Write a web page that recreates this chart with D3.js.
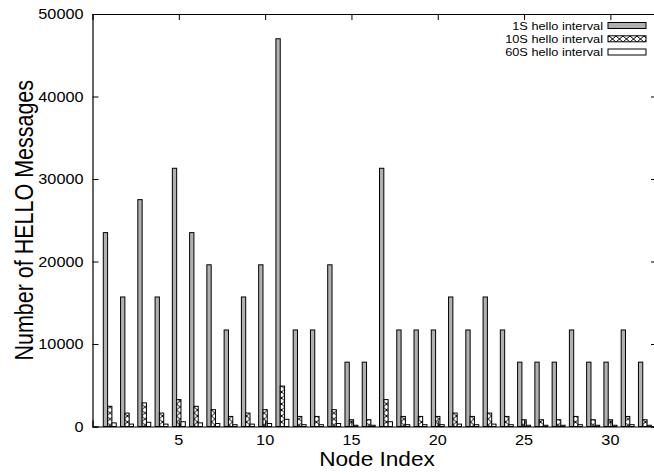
<!DOCTYPE html>
<html>
<head>
<meta charset="utf-8">
<script src="https://cdn.jsdelivr.net/npm/d3@7"></script>
<style>
  html, body { margin: 0; padding: 0; background: #fff; }
  svg { display: block; }
  text { font-family: "Liberation Sans", Arial, Helvetica, sans-serif; fill: #000; }
</style>
</head>
<body>
<div id="chart"></div>
<script>
// node indices
const nodes = [1,2,3,4,5,6,7,8,9,10,11,12,13,14,15,16,17,18,19,20,21,22,23,24,25,26,27,28,29,30,31,32];
// HELLO messages per node, one array per hello interval
const hello1s = [23500,15700,27500,15700,31300,23500,19600,11700,15700,19600,47000,11700,11700,19600,7800,7800,
                 31300,11700,11700,11700,15700,11700,15700,11700,7800,7800,7800,11700,7800,7800,11700,7800];
const hello10s = [2450,1630,2860,1630,3260,2450,2040,1220,1630,2040,4900,1220,1220,2040,820,820,
                  3260,1220,1220,1220,1630,1220,1630,1220,820,820,820,1220,820,820,1220,820];
const hello60s = [440,290,510,290,580,440,360,220,290,360,870,220,220,360,150,150,
                  580,220,220,220,290,220,290,220,150,150,150,220,150,150,220,150];
const seriesNames = ["1S hello interval", "10S hello interval", "60S hello interval"];
const xTicks = [5,10,15,20,25,30];
const yTicks = [0,10000,20000,30000,40000,50000];

const width = 654, height = 475;
const margin = { top: 14, left: 92.5, bottom: 48.5, right: -3 };
const innerW = width - margin.left - margin.right;
const innerH = height - margin.top - margin.bottom;
const sx = 1.16; // fonts in the picture look a bit stretched sideways

const svg = d3.select("#chart").append("svg")
  .attr("width", width).attr("height", height);

// crosshatch fill for the 10S series
const defs = svg.append("defs");
const pat = defs.append("pattern")
  .attr("id", "xhatch")
  .attr("patternUnits", "userSpaceOnUse")
  .attr("width", 7).attr("height", 6);
pat.append("rect").attr("width", 7).attr("height", 6).attr("fill", "#fff");
pat.append("path")
  .attr("d", "M0,0 L7,6 M7,0 L0,6")
  .attr("stroke", "#000").attr("stroke-width", 1);

const fills = ["#b0b0b0", "url(#xhatch)", "#fff"];
const series = [hello1s, hello10s, hello60s];

const g = svg.append("g").attr("transform", `translate(${margin.left},${margin.top})`);

const x = d3.scaleLinear().domain([0, 32.7]).range([0, innerW]);
const y = d3.scaleLinear().domain([0, 50000]).range([innerH, 0]);
const barW = 0.25; // in node units

// bars
series.forEach((vals, s) => {
  g.append("g").selectAll("rect")
    .data(vals)
    .join("rect")
    .attr("x", (d, i) => x(nodes[i] - 0.375 + s * barW))
    .attr("width", x(barW) - x(0))
    .attr("y", d => y(d))
    .attr("height", d => innerH - y(d))
    .attr("fill", fills[s])
    .attr("stroke", "#000")
    .attr("stroke-width", 1);
});

// axes, gnuplot style: ticks inward and mirrored
const xBottom = d3.axisBottom(x).tickValues(xTicks).tickSize(-6).tickFormat("");
const xTop = d3.axisTop(x).tickValues(xTicks).tickSize(-6).tickFormat("");
const yLeft = d3.axisLeft(y).tickValues(yTicks).tickSize(-6).tickFormat("");
const yRight = d3.axisRight(y).tickValues(yTicks).tickSize(-6).tickFormat("");

g.append("g").attr("transform", `translate(0,${innerH})`).call(xBottom);
g.append("g").call(xTop);
g.append("g").call(yLeft);
g.append("g").attr("transform", `translate(${innerW},0)`).call(yRight);
g.selectAll(".domain").attr("stroke", "#000").attr("stroke-width", 1.2);
g.selectAll(".tick line").attr("stroke", "#000");

// text helper with the sideways stretch (on screen, so rotated text stretches across)
function label(parent, tx, ty, str, size, anchor, rot) {
  const sc = rot ? `scale(1,${sx})` : `scale(${sx},1)`;
  return parent.append("text")
    .attr("transform", `translate(${tx},${ty}) rotate(${rot || 0}) ${sc}`)
    .attr("text-anchor", anchor)
    .attr("font-size", size)
    .text(str);
}

xTicks.forEach(t => label(g, x(t), innerH + 18, t, 14, "middle"));
yTicks.forEach(t => label(g, -9, y(t) + 5, t, 14, "end"));

label(svg, 377, 466, "Node Index", 19.5, "middle");
label(svg, 33, margin.top + innerH / 2, "Number of HELLO Messages", 21.5, "middle", -90);

// legend
const legRows = [25.5, 38.8, 52];
seriesNames.forEach((name, s) => {
  label(svg, 603, legRows[s] + 4, name, 11, "end");
  svg.append("rect")
    .attr("x", 608).attr("y", legRows[s] - 3)
    .attr("width", 38).attr("height", 6)
    .attr("fill", fills[s])
    .attr("stroke", "#000").attr("stroke-width", 1);
});
</script>
</body>
</html>
